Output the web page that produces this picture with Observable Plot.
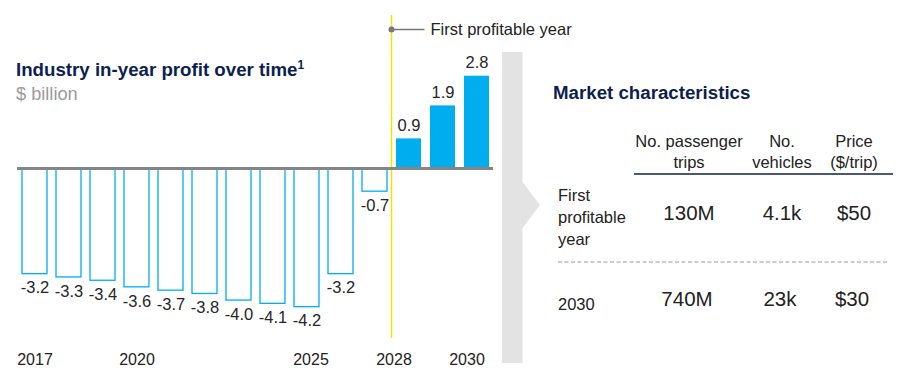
<!DOCTYPE html>
<html><head><meta charset="utf-8">
<script src="https://cdn.jsdelivr.net/npm/d3@7"></script>
<script src="https://cdn.jsdelivr.net/npm/@observablehq/plot@0.6"></script>
<style>
html,body{margin:0;padding:0;background:#fff;}
#wrap{position:relative;width:912px;height:387px;overflow:hidden;font-family:"Liberation Sans",Arial,sans-serif;color:#222;}
.t{position:absolute;white-space:pre;}
</style></head>
<body><div id="wrap"></div>
<script>
// ---- data ----
const years = ["2017","2018","2019","2020","2021","2022","2023","2024","2025","2026","2027","2028","2029","2030"];
const profit = [-3.2,-3.3,-3.4,-3.6,-3.7,-3.8,-4.0,-4.1,-4.2,-3.2,-0.7,0.9,1.9,2.8];
const tickYears = ["2017","2020","2025","2028","2030"];
const firstProfitableYear = "2028";
const annotationLabel = "First profitable year";
const chartTitle = "Industry in-year profit over time";
const chartSubtitle = "$ billion";
const tableTitle = "Market characteristics";
const tableColumns = ["No. passenger\ntrips", "No.\nvehicles", "Price\n($/trip)"];
const tableRows = ["First\nprofitable\nyear", "2030"];
const tableValues = [["130M","4.1k","$50"],["740M","23k","$30"]];

// ---- layout helpers ----
const wrap = document.getElementById("wrap");
const FONT = '"Liberation Sans", Arial, sans-serif';
function addText(text, o) {
  const d = document.createElement("div");
  d.className = "t";
  const size = o.size, lh = o.lh || size;
  const top = o.cy - ((lh - 1.117 * size) / 2 + 0.547 * size);
  d.style.top = top + "px";
  d.style.fontSize = size + "px";
  d.style.lineHeight = lh + "px";
  d.style.fontWeight = o.weight || "normal";
  d.style.color = o.color || "#222";
  if (o.cx !== undefined) { d.style.left = (o.cx - 100) + "px"; d.style.width = "200px"; d.style.textAlign = "center"; }
  else d.style.left = o.left + "px";
  if (o.html) d.innerHTML = text; else d.textContent = text;
  wrap.appendChild(d);
  return d;
}

// chevron decoration and table rules
wrap.insertAdjacentHTML("beforeend",
  `<svg width="912" height="387" style="position:absolute;left:0;top:0">
     <polygon points="502,52 522.5,52 522.5,182 540,205 522.5,228 522.5,363 502,363" fill="#e3e3e3"/>
     <line x1="634" x2="893" y1="174" y2="174" stroke="#0d1f4f" stroke-width="1.5"/>
     <line x1="558" x2="887" y1="262" y2="262" stroke="#9a9a9a" stroke-width="1" stroke-dasharray="4,2.5"/>
   </svg>`);

// ---- chart ----
const data = years.map((year, i) => ({year, value: profit[i]}));
const neg = data.filter(d => d.value < 0);
const pos = data.filter(d => d.value >= 0);
const blue = "#00aeef";
const annotY = 4.215;
const lineDx = -17.5;

const chart = Plot.plot({
  width: 500, height: 387,
  marginLeft: 12, marginRight: 2, marginTop: 15, marginBottom: 49,
  style: {fontFamily: FONT, background: "transparent", overflow: "visible", color: "#222"},
  x: {type: "band", domain: years, padding: 0.27, axis: null},
  y: {domain: [-5.15, 4.64], axis: null},
  marks: [
    Plot.barY(neg, {x: "year", y: "value", fill: "white", stroke: blue, strokeWidth: 1.3}),
    Plot.barY(pos, {x: "year", y: "value", fill: blue}),
    Plot.ruleX([firstProfitableYear], {x: d => d, dx: lineDx, stroke: "#f2e200", strokeWidth: 1.5}),
    Plot.ruleY([0], {stroke: "#858585", strokeWidth: 3, insetLeft: 5, insetRight: 5}),
    Plot.text(neg, {x: "year", y: "value", text: d => d.value.toFixed(1), dy: 14, fontSize: 16.5, fill: "#262626"}),
    Plot.text(pos, {x: "year", y: "value", text: d => d.value.toFixed(1), dy: -13, fontSize: 16.5, fill: "#262626"}),
    Plot.ruleY([annotY], {x1: () => firstProfitableYear, x2: () => firstProfitableYear, insetLeft: -5.5, insetRight: -3.5, stroke: "#777", strokeWidth: 1.5}),
    Plot.dot([annotY], {x: () => firstProfitableYear, y: d => d, dx: lineDx, r: 3, fill: "#777", stroke: "none"}),
    Plot.text([annotationLabel], {x: () => firstProfitableYear, y: () => annotY, dx: 21.5, textAnchor: "start", fontSize: 16.5, fill: "#222"}),
    Plot.axisX([tickYears[0], tickYears[1]], {tickSize: 0, tickPadding: 15, fontSize: 16, label: null}),
    Plot.axisX([tickYears[2]], {tickSize: 0, tickPadding: 15, fontSize: 16, label: null, dx: 4}),
    Plot.axisX([tickYears[3]], {tickSize: 0, tickPadding: 15, fontSize: 16, label: null, dx: -15}),
    Plot.axisX([tickYears[4]], {tickSize: 0, tickPadding: 15, fontSize: 16, label: null, dx: -10})
  ]
});
chart.style.position = "absolute";
chart.style.left = "0px";
chart.style.top = "0px";
wrap.appendChild(chart);

// ---- titles ----
addText(chartTitle + '<sup style="font-size:12px;line-height:0;vertical-align:7px">1</sup>', {left: 16, cy: 70, size: 18.7, weight: "bold", color: "#0d1f4f", html: true});
addText(chartSubtitle, {left: 16, cy: 94, size: 18.2, color: "#9a9a9a"});

// ---- table ----
addText(tableTitle, {left: 553, cy: 93, size: 18.7, weight: "bold", color: "#0d1f4f"});
const colX = [689, 782, 854];
tableColumns.forEach((c, i) => addText(c, {cx: colX[i], cy: 141, size: 16.5, lh: 21}));
const rowCy = [213, 299];
addText(tableRows[0], {left: 558, cy: 195, size: 16.5, lh: 22});
addText(tableRows[1], {left: 558, cy: 304, size: 16.5});
tableValues.forEach((row, r) => row.forEach((v, c) => addText(v, {cx: colX[c] - (r ? 2 : 0), cy: rowCy[r], size: 20.5})));
</script>
</body></html>
